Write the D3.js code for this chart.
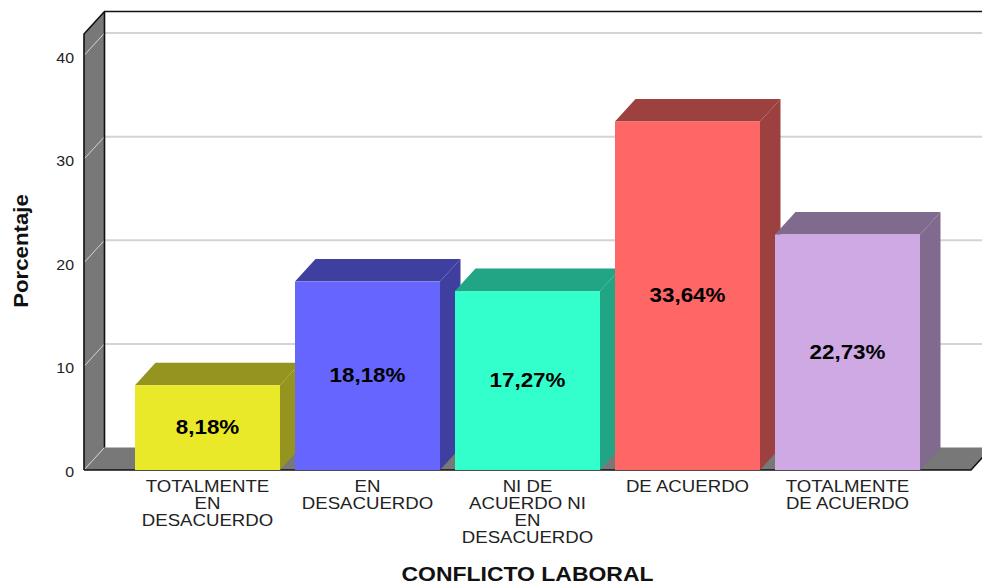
<!DOCTYPE html>
<html lang="en">
<head>
  <meta charset="UTF-8">
  <title>Conflicto laboral</title>
  <style>
    html, body { margin: 0; padding: 0; background: #fff; overflow: hidden; }
    svg { display: block; font-family: "Liberation Sans", Arial, sans-serif; }
  </style>
</head>
<body>
  <script src="https://d3js.org/d3.v7.min.js"></script>
  <script>
    'use strict';

    const categories = ['TME', 'ED', 'NI', 'DA', 'TDA'];
    const tickLabels = [
      ['TOTALMENTE', 'EN', 'DESACUERDO'],
      ['EN', 'DESACUERDO'],
      ['NI DE', 'ACUERDO NI', 'EN', 'DESACUERDO'],
      ['DE ACUERDO'],
      ['TOTALMENTE', 'DE ACUERDO']
    ];
    const values = [8.18, 18.18, 17.27, 33.64, 22.73];
    const valueLabels = ['8,18%', '18,18%', '17,27%', '33,64%', '22,73%'];
    const frontColors = ['#e9e92a', '#6666ff', '#33ffcc', '#ff6666', '#cea9e3'];
    const darkColors = ['#94941f', '#3f3f9f', '#22a585', '#9c4040', '#806a8e'];
    const yTicks = [0, 10, 20, 30, 40];

    const width = 982;
    const height = 588;
    const depthX = 20.5;
    const depthY = 22.5;
    const wallGrey = '#787878';
    const gridGrey = '#d4d4d4';

    const y = d3.scaleLinear().domain([0, 40]).range([470, 55.5]);
    const x = d3.scaleBand().domain(categories).range([135, 920]).paddingInner(15 / 160);

    const svg = d3.select('body').append('svg')
      .attr('width', width)
      .attr('height', height);

    const poly = pts => pts.map(p => p.join(',')).join(' ');

    const wallLeft = 84;
    const wallTop = 34;
    const floorFrontRight = 971;

    // left wall and floor
    svg.append('polygon')
      .attr('points', poly([[wallLeft, y(0)], [wallLeft, wallTop], [wallLeft + depthX, wallTop - depthY], [wallLeft + depthX, y(0) - depthY]]))
      .attr('fill', wallGrey);
    svg.append('polygon')
      .attr('points', poly([[wallLeft, y(0)], [wallLeft + depthX, y(0) - depthY], [floorFrontRight + depthX, y(0) - depthY], [floorFrontRight, y(0)]]))
      .attr('fill', wallGrey);

    // gridlines on back wall and left wall
    const grid = svg.append('g');
    grid.selectAll('line.back').data(yTicks.slice(1)).join('line')
      .attr('class', 'back')
      .attr('x1', wallLeft + depthX).attr('x2', width)
      .attr('y1', d => y(d) - depthY).attr('y2', d => y(d) - depthY)
      .attr('stroke', gridGrey).attr('stroke-width', 2);
    grid.selectAll('line.side').data(yTicks).join('line')
      .attr('class', 'side')
      .attr('x1', wallLeft).attr('x2', wallLeft + depthX)
      .attr('y1', d => y(d)).attr('y2', d => y(d) - depthY)
      .attr('stroke', gridGrey).attr('stroke-width', 1);

    // frame
    svg.append('path')
      .attr('d', `M${wallLeft},${y(0)}V${wallTop}L${wallLeft + depthX},${wallTop - depthY}H${width}`
        + `M${wallLeft + depthX},${wallTop - depthY}V${y(0) - depthY}`
        + `M${wallLeft},${y(0)}H${floorFrontRight}L${floorFrontRight + depthX},${y(0) - depthY}`)
      .attr('fill', 'none')
      .attr('stroke', '#111')
      .attr('stroke-width', 1.6);

    // bars, left to right so that each covers the side of the previous one
    const bars = svg.selectAll('g.bar').data(categories).join('g').attr('class', 'bar');

    bars.append('polygon')
      .attr('points', (d, i) => {
        const x0 = x(d), x1 = x0 + x.bandwidth(), y1 = y(values[i]);
        return poly([[x0, y1], [x0 + depthX, y1 - depthY], [x1 + depthX, y1 - depthY], [x1, y1]]);
      })
      .attr('fill', (d, i) => darkColors[i]);

    bars.append('polygon')
      .attr('points', (d, i) => {
        const x1 = x(d) + x.bandwidth(), y1 = y(values[i]);
        return poly([[x1, y1], [x1 + depthX, y1 - depthY], [x1 + depthX, y(0) - depthY], [x1, y(0)]]);
      })
      .attr('fill', (d, i) => darkColors[i]);

    bars.append('rect')
      .attr('x', d => x(d))
      .attr('y', (d, i) => y(values[i]))
      .attr('width', x.bandwidth())
      .attr('height', (d, i) => y(0) - y(values[i]))
      .attr('fill', (d, i) => frontColors[i]);

    // the reference text is a bit stretched sideways, hence the scale()
    bars.append('text')
      .attr('transform', (d, i) => `translate(${x(d) + x.bandwidth() / 2},${(y(0) + y(values[i])) / 2 + 6.5}) scale(1.12,1)`)
      .attr('text-anchor', 'middle')
      .attr('font-size', 20)
      .attr('font-weight', 'bold')
      .attr('fill', '#000')
      .text((d, i) => valueLabels[i]);

    // axes
    const yAxis = svg.append('g')
      .attr('transform', `translate(${wallLeft},0)`)
      .call(d3.axisLeft(y).tickValues(yTicks).tickSize(0).tickPadding(9));
    yAxis.select('.domain').remove();
    yAxis.selectAll('text')
      .attr('font-size', 14.5)
      .attr('font-family', '"Liberation Sans", Arial, sans-serif')
      .attr('fill', '#222')
      .attr('dy', '0.45em')
      .attr('transform', 'scale(1.1,1)');

    const xAxis = svg.append('g')
      .attr('transform', `translate(0,${y(0)})`)
      .call(d3.axisBottom(x).tickSize(0));
    xAxis.select('.domain').remove();
    xAxis.selectAll('text').each(function (d, i) {
      const t = d3.select(this).text(null).attr('y', 0).attr('dy', null);
      tickLabels[i].forEach((line, k) => {
        t.append('tspan')
          .attr('x', 0)
          .attr('y', 22 + k * 17)
          .text(line);
      });
    });
    xAxis.selectAll('text')
      .attr('font-size', 16.5)
      .attr('font-family', '"Liberation Sans", Arial, sans-serif')
      .attr('fill', '#222')
      .attr('transform', 'scale(1.13,1)');

    svg.append('text')
      .attr('transform', 'translate(28,251) rotate(-90) scale(1.06,1)')
      .attr('text-anchor', 'middle')
      .attr('font-size', 21)
      .attr('font-weight', 'bold')
      .attr('fill', '#111')
      .text('Porcentaje');

    svg.append('text')
      .attr('transform', 'translate(527.5,581) scale(1.12,1)')
      .attr('text-anchor', 'middle')
      .attr('font-size', 20.5)
      .attr('font-weight', 'bold')
      .attr('fill', '#111')
      .text('CONFLICTO LABORAL');
  </script>
</body>
</html>
